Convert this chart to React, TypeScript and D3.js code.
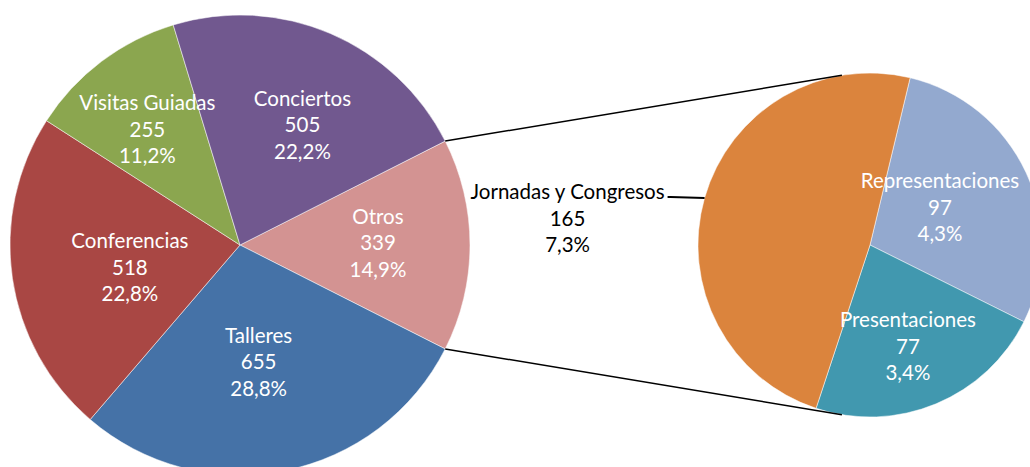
import React from "react";
import * as d3 from "d3";

// main pie, clockwise from "Otros"
const mainLabels = ["Otros", "Talleres", "Conferencias", "Visitas Guiadas", "Conciertos"];
const mainValues = [339, 655, 518, 255, 505];
const mainColors = ["#d39392", "#4572a7", "#a94744", "#8ba64f", "#71588f"];

// secondary pie (breakdown of "Otros"), clockwise
const subLabels = ["Representaciones", "Presentaciones", "Jornadas y Congresos"];
const subValues = [97, 77, 165];
const subColors = ["#93a9cf", "#4198af", "#db843d"];

const W = 1030;
const H = 467;
const FONT = "Lato, 'Open Sans', sans-serif";
const FS = 20.5;
const LH = 26.5;

const rad = (deg: number) => (deg * Math.PI) / 180;

// label placement: [radius, angle offset in degrees] from each slice's mid angle
const mainLabelPos = [[138, -0.8], [118.5, 2.2], [112.4, -3.3], [147.9, -1.7], [135.1, 4.4]];
const subLabelPos = [[79.2, -2.9], [108.8, 2.2]];

export default function App() {
  const total = d3.sum(mainValues);
  const pct = (v: number) => (100 * v / total).toFixed(1).replace(".", ",") + "%";

  // main pie geometry
  const cx = 240, cy = 245, R = 230;
  const otrosSpan = (2 * Math.PI * mainValues[0]) / total;
  const start = Math.PI / 2 - otrosSpan / 2;
  const mainArcs = d3.pie<number>().sort(null).startAngle(start).endAngle(start + 2 * Math.PI)(mainValues);
  const arcMain = d3.arc<d3.PieArcDatum<number>>().innerRadius(0).outerRadius(R);

  // secondary pie geometry
  const sx = 870, sy = 245, r = 172;
  const subStart = rad(13.5);
  const subArcs = d3.pie<number>().sort(null).startAngle(subStart).endAngle(subStart + 2 * Math.PI)(subValues);
  const arcSub = d3.arc<d3.PieArcDatum<number>>().innerRadius(0).outerRadius(r);

  const polar = (x: number, y: number, radius: number, a: number) =>
    [x + radius * Math.sin(a), y - radius * Math.cos(a)];

  // connector lines from the Otros slice edges to the secondary pie
  const o = mainArcs[0];
  const p1 = polar(cx, cy, R, o.startAngle);
  const p2 = polar(cx, cy, R, o.endAngle);
  const q1 = polar(sx, sy, r, rad(-9.4));
  const q2 = polar(sx, sy, r, rad(189.4));

  const label = (x: number, y: number, lines: string[], fill: string, key: string) => (
    <text key={key} x={x} y={y} fill={fill} fontFamily={FONT} fontSize={FS} textAnchor="middle">
      {lines.map((t, i) => (
        <tspan key={i} x={x} dy={i === 0 ? -LH + 7 : LH}>{t}</tspan>
      ))}
    </text>
  );

  // outside label for Jornadas
  const j = subArcs[2];
  const jMid = (j.startAngle + j.endAngle) / 2;
  const jp = polar(sx, sy, r, jMid);

  return (
    <svg width={W} height={H} style={{ position: "absolute", left: 0, top: 0, background: "#fff" }}>
      <g>
        {mainArcs.map((a, i) => (
          <path key={i} d={arcMain(a) || ""} transform={`translate(${cx},${cy})`}
            fill={mainColors[i]} stroke="#fff" strokeWidth={0.5} />
        ))}
      </g>
      <g>
        {subArcs.map((a, i) => (
          <path key={i} d={arcSub(a) || ""} transform={`translate(${sx},${sy})`}
            fill={subColors[i]} stroke="#fff" strokeWidth={0.5} />
        ))}
      </g>
      <line x1={p1[0]} y1={p1[1]} x2={q1[0]} y2={q1[1]} stroke="#000" strokeWidth={1.5} />
      <line x1={p2[0]} y1={p2[1]} x2={q2[0]} y2={q2[1]} stroke="#000" strokeWidth={1.5} />
      {mainArcs.map((a, i) => {
        const m = (a.startAngle + a.endAngle) / 2 + rad(mainLabelPos[i][1]);
        const [lx, ly] = polar(cx, cy, mainLabelPos[i][0], m);
        return label(lx, ly, [mainLabels[i], String(mainValues[i]), pct(mainValues[i])], "#fff", "m" + i);
      })}
      {subArcs.slice(0, 2).map((a, i) => {
        const m = (a.startAngle + a.endAngle) / 2 + rad(subLabelPos[i][1]);
        const [lx, ly] = polar(sx, sy, subLabelPos[i][0], m);
        return label(lx, ly, [subLabels[i], String(subValues[i]), pct(subValues[i])], "#fff", "s" + i);
      })}
      <polyline points={`${jp[0]},${jp[1]} ${jp[0] - 34},${jp[1] - 1} ${jp[0] - 37},${jp[1] - 1}`}
        fill="none" stroke="#000" strokeWidth={2} />
      {label(jp[0] - 137, jp[1] + 21, [subLabels[2], String(subValues[2]), pct(subValues[2])], "#000", "j")}
    </svg>
  );
}
